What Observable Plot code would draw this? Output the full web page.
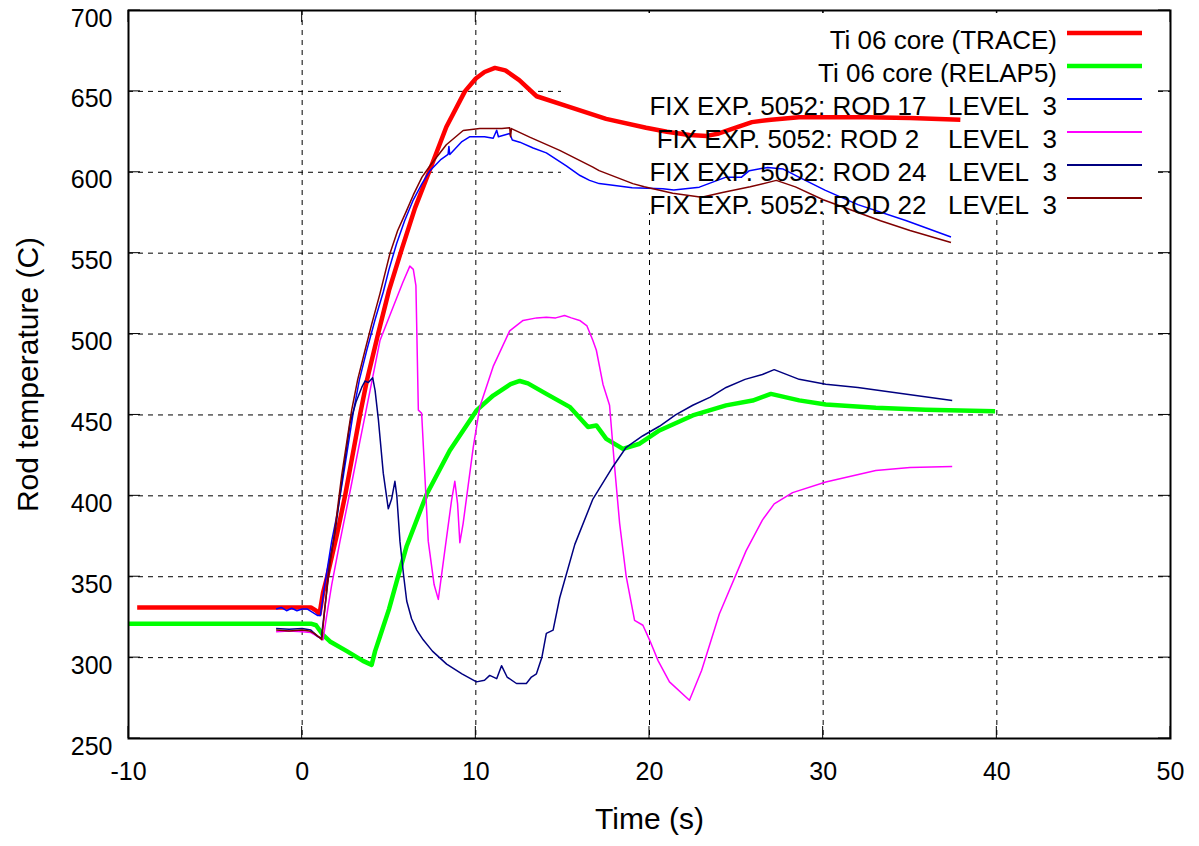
<!DOCTYPE html>
<html>
<head>
<meta charset="utf-8">
<script src="https://cdn.jsdelivr.net/npm/d3@7"></script>
<script src="https://cdn.jsdelivr.net/npm/@observablehq/plot@0.6"></script>
<style>
  html, body { margin: 0; padding: 0; background: white; }
  svg { display: block; }
  svg text { white-space: pre; }
</style>
</head>
<body>
<div id="chart"></div>
<script>
(function () {
// ---- Tick values ----
const xTicks = [-10, 0, 10, 20, 30, 40, 50];
const yTicks = [250, 300, 350, 400, 450, 500, 550, 600, 650, 700];
const xGrid = [0, 10, 20, 30, 40];
const yGrid = [300, 350, 400, 450, 500, 550, 600, 650];

// ---- Series labels ----
const seriesLabels = [
  "Ti 06 core (TRACE)",
  "Ti 06 core (RELAP5)",
  "FIX EXP. 5052: ROD 17   LEVEL  3",
  "FIX EXP. 5052: ROD 2    LEVEL  3",
  "FIX EXP. 5052: ROD 24   LEVEL  3",
  "FIX EXP. 5052: ROD 22   LEVEL  3"
];
const seriesColors = ["#ff0000", "#00ff00", "#0000ff", "#ff00ff", "#000080", "#800000"];

// ---- Series values: [time (s), temperature (C)] ----
const trace = [[-9.5,331],[0.5,331],[0.8,329],[1.0,327],[1.2,340],[1.44,350],[2.0,376],[2.47,400],[3.33,450],[3.72,471],[4.37,500],[5.0,527],[5.75,553],[6.5,578],[7.3,600],[8.3,628],[9.37,650],[10.0,658],[10.5,662],[11.1,664.5],[11.7,663],[12.5,657],[13.5,647],[15.2,641],[17.5,633],[19.8,627.5],[21.0,625],[22.3,623],[23.3,622.5],[24.0,624],[24.8,627],[25.9,631],[27.0,632.5],[28.6,634],[32.5,634],[35.0,633.5],[37.9,632.5]];

const relap5 = [[-10,321],[0.5,321],[0.8,320],[1.2,314],[1.6,310],[2.57,304],[3.5,298],[4.0,295.5],[4.2,304],[4.48,313],[5.0,330],[5.44,347],[6.02,369],[7.17,401],[8.5,428],[10.04,452.8],[11.0,462],[12.0,469],[12.53,471],[13.0,469.5],[14.06,463],[15.4,455],[16.46,442.5],[16.94,443.5],[17.51,435.2],[18.47,429],[19.43,432.2],[20.57,440.4],[22.49,449.7],[24.41,455.9],[25.94,458.9],[26.99,463],[28.62,459],[30.15,456.5],[33.03,454.4],[35.9,453.2],[39.9,452.3]];

const rod17 = [[-1.5,330],[-1.2,331],[-0.9,329],[-0.6,330.5],[-0.3,329],[0,330],[0.3,330],[0.6,328],[0.9,326],[1.05,326],[1.3,345],[1.7,372],[2.0,388],[2.38,413],[2.95,452],[3.3,472],[3.72,490],[4.2,509],[4.67,526],[5.0,540],[5.44,556],[5.9,570],[6.4,583],[6.9,593],[7.36,601],[8.0,608],[8.4,611],[8.45,616],[8.5,611],[9.2,619],[9.66,622],[10.5,622],[11.0,621],[11.2,626],[11.3,622],[11.95,624],[12.1,620],[12.53,618.6],[13.3,615],[14.06,612],[15.21,604],[16.0,598],[16.55,595],[17.1,593],[17.89,592],[19.0,590.5],[20.77,589.8],[21.4,589],[22.87,590.8],[24.41,597],[25.3,597],[25.75,601],[26.8,603],[27.7,602],[28.6,597],[30.1,589],[32.0,580],[34.8,570],[37.36,560]];

const rod2 = [[-1.5,316],[-0.75,316.5],[0,316],[0.5,315.5],[0.9,313],[1.2,311],[1.4,325],[1.7,345],[2.18,372],[2.8,405],[3.33,434],[4.0,470],[4.48,496],[5.25,517],[5.8,532],[6.2,542],[6.4,540],[6.55,530],[6.69,453],[6.88,451],[7.26,372],[7.6,345],[7.84,336],[8.2,365],[8.6,397],[8.79,409],[8.95,395],[9.08,371],[9.27,383],[9.85,430],[10.23,455],[11.0,480],[11.95,502],[12.72,508.4],[13.5,510],[14.06,510.4],[14.6,510],[15.11,511.5],[15.5,510],[15.98,508.4],[16.4,505],[16.74,496],[16.94,490],[17.32,469],[17.7,456],[17.99,418],[18.28,383],[18.66,350],[19.14,323],[19.62,320],[20.0,311],[20.5,298],[21.15,285],[22.3,273.6],[23.0,292],[24.02,327],[25.56,366],[26.5,385],[27.18,395],[28.24,402],[30.15,408.6],[33.03,415.7],[35.0,417.5],[37.43,418.2]];

const rod24 = [[-1.5,318],[-0.75,317.5],[0,318],[0.5,317],[0.9,313],[1.1,312],[1.3,330],[1.6,360],[1.9,378],[2.3,410],[2.76,445],[3.1,458],[3.43,467],[3.62,471],[3.81,470],[4.06,473],[4.2,465],[4.39,447],[4.67,414],[4.96,392],[5.15,398],[5.34,409],[5.45,400],[5.63,372],[5.85,350],[6.02,335],[6.3,324],[6.6,317],[6.97,311],[7.5,304],[8.32,296],[9.2,290],[10.04,285],[10.5,286],[10.8,289],[11.2,287],[11.48,295],[11.8,288],[12.34,284],[12.91,284],[13.2,288],[13.49,290],[13.8,300],[14.06,315],[14.45,317],[14.83,337],[15.7,370],[16.74,398],[17.89,418],[18.66,430],[19.6,437],[20.57,443],[21.5,450],[22.49,456],[23.5,461],[24.41,467],[25.5,472],[26.5,475],[27.18,478],[28.62,472],[30.15,469],[32.0,467],[33.98,464],[37.43,459]];

const rod22 = [[-1.5,317],[-0.75,316.5],[0,317],[0.4,316.5],[0.7,315],[1.0,312.5],[1.13,311],[1.3,330],[1.6,358],[1.86,377],[2.28,413],[2.85,453],[3.2,472],[3.62,490],[4.0,506],[4.48,525],[5.06,550],[5.5,564],[6.0,576],[6.4,586],[6.9,597],[7.36,604],[8.3,617],[9.27,625.8],[10.23,627],[11.5,627],[11.95,627.5],[12.0,622],[12.05,627],[13.1,621.7],[14.83,613.5],[16.74,603.2],[17.1,601],[19.04,593],[19.7,591],[21.34,587],[23.0,584.6],[24.2,587.5],[25.8,591],[27.3,595],[28.4,591],[30.0,583],[33.3,570],[35.0,564],[37.36,556.6]];

const seriesData = [trace, relap5, rod17, rod2, rod24, rod22];
const seriesWidths = [4.5, 4.5, 1.5, 1.5, 1.5, 1.5];

const W = 1199, H = 846;
const mTop = 10, mRight = 29, mBottom = 108, mLeft = 128;

const lineMarks = seriesData.map((d, i) =>
  Plot.line(d, {x: p => p[0], y: p => p[1], stroke: seriesColors[i], strokeWidth: seriesWidths[i], strokeLinejoin: "round", strokeLinecap: "butt"})
);

const plot = Plot.plot({
  width: W, height: H,
  marginTop: mTop, marginRight: mRight, marginBottom: mBottom, marginLeft: mLeft,
  x: {domain: [-10, 50], axis: null},
  y: {domain: [250, 700], axis: null},
  style: {fontFamily: "'Liberation Sans', Arial, sans-serif", background: "white", color: "black"},
  marks: [
    Plot.ruleX(xGrid, {x: d => d, stroke: "black", strokeWidth: 1, strokeDasharray: "5,5"}),
    Plot.ruleY(yGrid, {y: d => d, stroke: "black", strokeWidth: 1, strokeDasharray: "5,5"}),
    ...lineMarks,
    Plot.text(xTicks, {x: d => d, frameAnchor: "bottom", dy: 41, fontSize: 25, fill: "black", text: d => String(d)}),
    Plot.text(yTicks, {y: d => d, frameAnchor: "left", dx: -16, dy: 8, textAnchor: "end", fontSize: 25, fill: "black", text: d => String(d)}),
    Plot.text(["Time (s)"], {frameAnchor: "bottom", dy: 90, fontSize: 30, fill: "black"}),
    Plot.text(["Rod temperature (C)"], {frameAnchor: "left", dx: -100, rotate: -90, textAnchor: "middle", fontSize: 30, fill: "black"}),
    Plot.frame({stroke: "black", strokeWidth: 2})
  ]
});

document.getElementById("chart").appendChild(plot);

// ---- inward ticks, legend box and legend, via the plot's own scales ----
const svg = d3.select(plot);
const xs = plot.scale("x"), ys = plot.scale("y");
const fLeft = mLeft, fRight = W - mRight, fTop = mTop, fBottom = H - mBottom;
const tickLen = 12;
const firstLine = 'g[aria-label="line"]';

const tg = svg.insert("g", firstLine).attr("stroke", "black").attr("stroke-width", 1);
xTicks.forEach(v => {
  const px = xs.apply(v);
  tg.append("line").attr("x1", px).attr("x2", px).attr("y1", fBottom).attr("y2", fBottom - tickLen);
  tg.append("line").attr("x1", px).attr("x2", px).attr("y1", fTop).attr("y2", fTop + tickLen);
});
yTicks.forEach(v => {
  const py = ys.apply(v);
  tg.append("line").attr("x1", fLeft).attr("x2", fLeft + tickLen).attr("y1", py).attr("y2", py);
  tg.append("line").attr("x1", fRight).attr("x2", fRight - tickLen).attr("y1", py).attr("y2", py);
});

// opaque key box (covers grid, under curves)
svg.insert("rect", firstLine)
  .attr("x", 561).attr("y", fTop + 3)
  .attr("width", fRight - 13 - 561).attr("height", 213 - fTop - 3)
  .attr("fill", "white");

// legend
const lg = svg.append("g").attr("font-family", "'Liberation Sans', Arial, sans-serif").attr("font-size", 26);
seriesLabels.forEach((lab, i) => {
  const ly = 33 + 33 * i;
  lg.append("text")
    .attr("x", fRight - 113).attr("y", ly + 7)
    .attr("text-anchor", "end").attr("dominant-baseline", "central")
    .attr("fill", "black")
    .text(lab);
  lg.append("line")
    .attr("x1", fRight - 103).attr("x2", fRight - 28)
    .attr("y1", ly).attr("y2", ly)
    .attr("stroke", seriesColors[i]).attr("stroke-width", seriesWidths[i] === 4.5 ? 4.5 : 2);
});
})();
</script>
</body>
</html>
